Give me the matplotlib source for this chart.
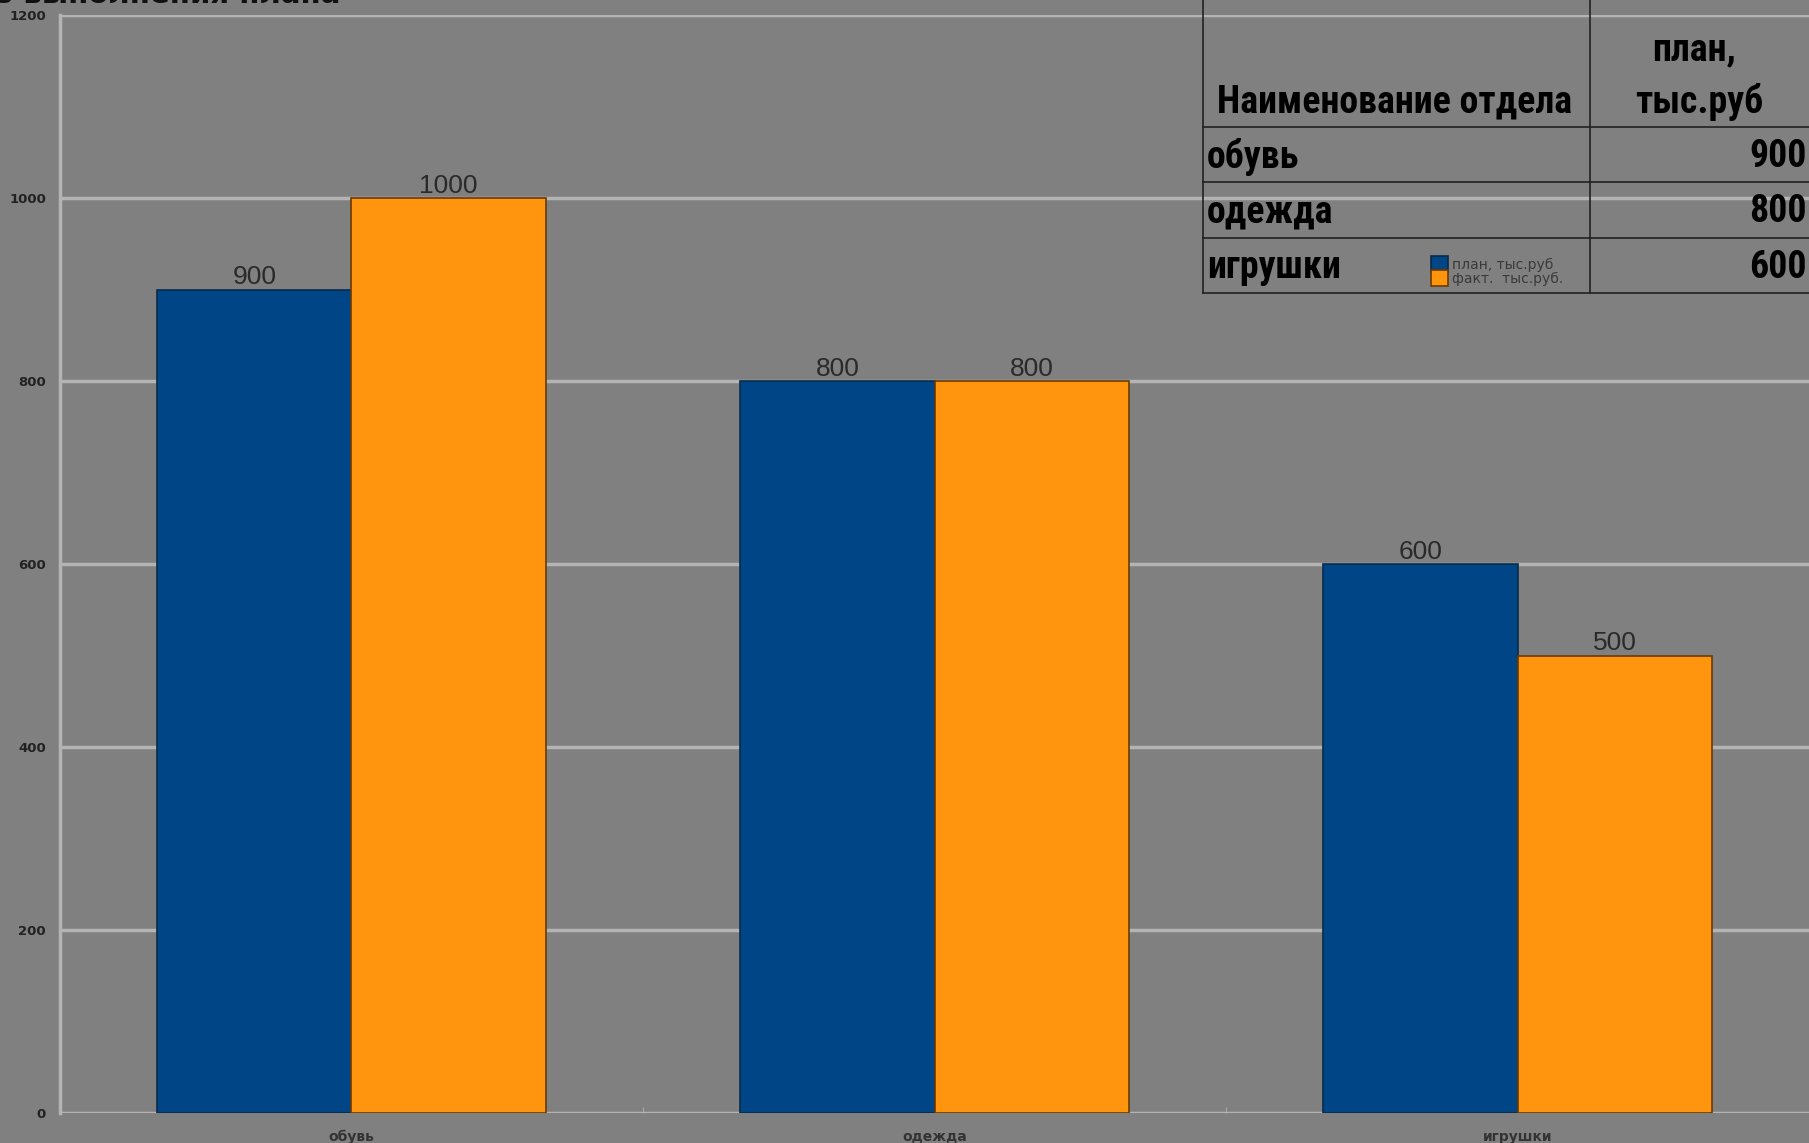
import matplotlib.pyplot as plt
import numpy as np
from matplotlib.lines import Line2D

# данные
otdely = ['обувь', 'одежда', 'игрушки']
plan = [900, 800, 600]
fakt = [1000, 800, 500]
series_names = ['план, тыс.руб', 'факт.  тыс.руб.']
y_ticks = [0, 200, 400, 600, 800, 1000, 1200]
header = ['Наименование отдела', 'план,\nтыс.руб']

col_blue = '#004586'
col_orange = '#ff950e'
bg = '#808080'
grid_col = '#b4b4b4'

W, H = 1809, 1143
fig = plt.figure(figsize=(W / 100, H / 100), dpi=100)
fig.patch.set_facecolor(bg)

ax = fig.add_axes([60 / W, 30 / H, 1 - 60 / W, (1113 - 15) / H])
ax.set_facecolor(bg)

x = np.arange(len(otdely)) + 0.5
bw = 0.333
b1 = ax.bar(x - bw / 2, plan, bw, color=col_blue, edgecolor='#0a2a4a', linewidth=1.2, label=series_names[0], zorder=3)
b2 = ax.bar(x + bw / 2, fakt, bw, color=col_orange, edgecolor='#6b3a00', linewidth=1.2, label=series_names[1], zorder=3)

for bars, vals in [(b1, plan), (b2, fakt)]:
    for r, v in zip(bars, vals):
        ax.annotate(str(v), (r.get_x() + r.get_width() / 2, v), xytext=(0, 0), textcoords='offset points',
                    ha='center', va='bottom', fontsize=19, color='#2a2a2a', family='Liberation Sans')

ax.set_xlim(0, (W - 60) / 589)
ax.set_ylim(0, 1200)
ax.set_yticks(y_ticks)
ax.set_yticklabels([str(t) for t in y_ticks], fontsize=9.5, color='#222222', fontweight='bold')
ax.set_xticks(x)
ax.set_xticklabels(otdely, fontsize=10, color='#333333', fontweight='bold')
ax.set_xticks([1, 2, 3], minor=True)
ax.tick_params(axis='y', which='major', length=0, pad=10)
ax.tick_params(axis='x', which='major', length=0, pad=12)
ax.tick_params(axis='x', which='minor', length=4, color=grid_col, direction='in')
ax.yaxis.grid(True, color=grid_col, linewidth=2.5, zorder=0)
ax.set_axisbelow(True)
for s in ['top', 'right', 'bottom']:
    ax.spines[s].set_visible(False)
ax.spines['left'].set_color(grid_col)
ax.spines['left'].set_linewidth(2.5)

# заголовок (обрезан сверху, как на исходнике)
fig.text(340 / W, 1 - 3 / H, 'Анализ выполнения плана', ha='right', va='baseline',
         fontsize=21, fontweight='bold', color='#111111')

# таблица поверх графика
ov = fig.add_axes([0, 0, 1, 1])
ov.set_xlim(0, W)
ov.set_ylim(H, 0)
ov.axis('off')
ov.patch.set_alpha(0)

tfont = dict(family=['Liberation Sans Narrow', 'Noto Sans Condensed', 'Roboto Condensed', 'Noto Sans', 'DejaVu Sans'],
             fontweight='bold', fontstretch='condensed', color='black', fontsize=34)
x_left, x_div, x_right = 1203, 1590, W
row_y = [127, 182, 238, 293]
for yy in row_y:
    ov.add_line(Line2D([x_left, x_right], [yy, yy], color='#222222', linewidth=1.2))
for xx in [x_left, x_div]:
    ov.add_line(Line2D([xx, xx], [0, row_y[-1]], color='#222222', linewidth=1.2))

texts = []  # (text, целевая ширина)
texts.append((ov.text(1395, 102, header[0], ha='center', va='center', **tfont), 362))
p1, p2 = header[1].split('\n')
texts.append((ov.text(1694, 50, p1, ha='center', va='center', **tfont), 87))
texts.append((ov.text(1699, 102, p2, ha='center', va='center', **tfont), 126))
name_w = [94, 120, 129]
for i, (name, val) in enumerate(zip(otdely, plan)):
    yc = (row_y[i] + row_y[i + 1]) / 2 + 2
    texts.append((ov.text(1207, yc, name, ha='left', va='center', **tfont), name_w[i]))
    texts.append((ov.text(1807, yc, str(val), ha='right', va='center', **tfont), 51))

# подгоняем размер шрифта таблицы под ширину текста на исходнике
renderer = fig.canvas.get_renderer()
ratios = [tw / t.get_window_extent(renderer).width for t, tw in texts]
k = min(1.0, float(np.median(ratios)) * 1.04)
for t, _ in texts:
    t.set_fontsize(34 * k)

leg = ax.legend(loc='upper left', bbox_to_anchor=(1424 / W, 1 - 249 / H), bbox_transform=fig.transFigure,
                frameon=False, fontsize=10, handlelength=1.2, handleheight=1.4, handletextpad=0.35,
                labelspacing=-0.15, borderpad=0)
for t in leg.get_texts():
    t.set_color('#3a3a3a')

fig.savefig('out.png', dpi=100, facecolor=bg)
